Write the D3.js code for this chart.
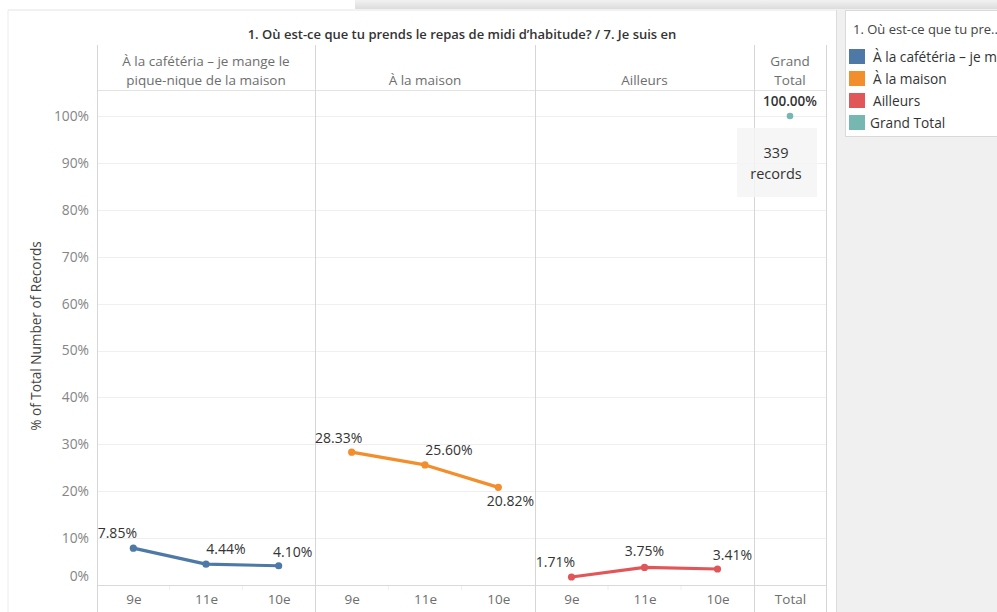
<!DOCTYPE html>
<html>
<head>
<meta charset="utf-8">
<script src="https://cdn.jsdelivr.net/npm/d3@7"></script>
<style>
  body { margin: 0; background: #fff; }
  svg { display: block; font-family: "Open Sans", "Lato", sans-serif; }
</style>
</head>
<body>
<svg id="chart" width="997" height="612"></svg>
<script>
var grades = ["9e", "11e", "10e"];
var places = ["À la cafétéria – je mange le pique-nique de la maison", "À la maison", "Ailleurs"];
var placeHeaders = [["À la cafétéria – je mange le", "pique-nique de la maison"], ["À la maison"], ["Ailleurs"]];
var cafeteria = [7.85, 4.44, 4.10];
var maison = [28.33, 25.60, 20.82];
var ailleurs = [1.71, 3.75, 3.41];
var grandTotal = 100;
var totalRecords = 339;
var yTicks = [0, 10, 20, 30, 40, 50, 60, 70, 80, 90, 100];

var series = [cafeteria, maison, ailleurs];
var colors = ["#4e79a7", "#f28e2b", "#e15759"];
var totalColor = "#76b7b2";

// label offsets (dx, dy) from the point, roughly where tableau put them
var labelOffsets = [
    [[-16, -10], [20, -10], [14, -9]],
    [[-13, -9], [24, -10], [12, 19]],
    [[-16, -10], [0, -11], [15, -9]]
];

var svg = d3.select("#chart");

// panes
var paneEdges = [97, 315, 535, 754, 826];
var headerTop = 45, headerBottom = 90, axisBottom = 612;

var y = d3.scaleLinear().domain([0, 100]).range([585, 116]);

// background bits
svg.append("rect").attr("x", 837).attr("y", 0).attr("width", 160).attr("height", 612).attr("fill", "#f0f0f0");
var grad = svg.append("defs").append("linearGradient").attr("id", "topShade").attr("x1", 0).attr("y1", 0).attr("x2", 0).attr("y2", 1);
grad.append("stop").attr("offset", "0%").attr("stop-color", "#f2f2f2");
grad.append("stop").attr("offset", "100%").attr("stop-color", "#dcdcdc");
svg.append("rect").attr("x", 355).attr("y", 0).attr("width", 642).attr("height", 9).attr("fill", "url(#topShade)");
svg.append("line").attr("x1", 8).attr("x2", 837).attr("y1", 10).attr("y2", 10).attr("stroke", "#e4e4e4");
svg.append("line").attr("x1", 8).attr("x2", 8).attr("y1", 10).attr("y2", 612).attr("stroke", "#ececec");
svg.append("line").attr("x1", 836.5).attr("x2", 836.5).attr("y1", 10).attr("y2", 612).attr("stroke", "#dcdcdc");

// title
svg.append("text")
   .attr("x", 462).attr("y", 39)
   .attr("text-anchor", "middle")
   .attr("font-size", 13).attr("font-weight", 600).attr("fill", "#333")
   .text("1. Où est-ce que tu prends le repas de midi d’habitude? / 7. Je suis en");

// gridlines
svg.append("g").selectAll("line")
   .data(yTicks.slice(1))
   .enter().append("line")
   .attr("x1", paneEdges[0]).attr("x2", paneEdges[4])
   .attr("y1", function(d) { return Math.round(y(d)) + 0.5; })
   .attr("y2", function(d) { return Math.round(y(d)) + 0.5; })
   .attr("stroke", "#efefef");

svg.append("line").attr("x1", paneEdges[0]).attr("x2", paneEdges[4])
   .attr("y1", headerBottom + 0.5).attr("y2", headerBottom + 0.5).attr("stroke", "#e3e3e3");
svg.append("line").attr("x1", paneEdges[0]).attr("x2", paneEdges[4])
   .attr("y1", 585.5).attr("y2", 585.5).attr("stroke", "#d9d9d9");

// pane dividers
svg.append("g").selectAll("line")
   .data(paneEdges)
   .enter().append("line")
   .attr("x1", function(d) { return d + 0.5; }).attr("x2", function(d) { return d + 0.5; })
   .attr("y1", headerTop).attr("y2", axisBottom)
   .attr("stroke", "#d6d6d6");

// y axis
var yAxis = svg.append("g")
   .attr("transform", "translate(89,0)")
   .call(d3.axisLeft(y).tickValues(yTicks).tickSize(0).tickPadding(0).tickFormat(function(d) { return d + "%"; }));
yAxis.select(".domain").remove();
yAxis.selectAll("text")
   .attr("font-family", "Open Sans, Lato, sans-serif")
   .attr("font-size", 13.8).attr("fill", "#858585")
   .attr("dy", function(d) { return d === 0 ? "-0.3em" : "0.32em"; });

svg.append("text")
   .attr("transform", "translate(41,336) rotate(-90)")
   .attr("text-anchor", "middle")
   .attr("font-size", 13.6).attr("fill", "#444")
   .text("% of Total Number of Records");

// each place pane
places.forEach(function(place, i) {
    var x = d3.scalePoint().domain(grades).range([paneEdges[i], paneEdges[i + 1]]).padding(0.5);
    var pane = svg.append("g").attr("class", "pane");

    var head = pane.append("text")
       .attr("text-anchor", "middle")
       .attr("font-size", 13.5).attr("fill", "#6e6e6e");
    var lines = placeHeaders[i];
    lines.forEach(function(t, k) {
        head.append("tspan")
            .attr("x", (paneEdges[i] + paneEdges[i + 1]) / 2)
            .attr("y", 85 - (lines.length - 1 - k) * 19)
            .text(t);
    });

    var xAxis = pane.append("g")
       .attr("transform", "translate(0,585)")
       .call(d3.axisBottom(x).tickSize(0).tickPadding(9));
    xAxis.select(".domain").remove();
    xAxis.selectAll("text")
       .attr("font-family", "Open Sans, Lato, sans-serif")
       .attr("font-size", 13.5).attr("fill", "#6e6e6e");

    // little separators between categories
    pane.selectAll(".sep")
       .data(grades.slice(1))
       .enter().append("line")
       .attr("x1", function(d) { return x(d) - x.step() / 2; })
       .attr("x2", function(d) { return x(d) - x.step() / 2; })
       .attr("y1", 586).attr("y2", 590)
       .attr("stroke", "#eeeeee");

    var vals = series[i];
    var line = d3.line()
       .x(function(d, k) { return x(grades[k]); })
       .y(function(d) { return y(d); });

    pane.append("path")
       .attr("d", line(vals))
       .attr("fill", "none")
       .attr("stroke", colors[i])
       .attr("stroke-width", 3.2)
       .attr("stroke-linejoin", "round");

    pane.selectAll("circle")
       .data(vals)
       .enter().append("circle")
       .attr("cx", function(d, k) { return x(grades[k]); })
       .attr("cy", function(d) { return y(d); })
       .attr("r", 3.6)
       .attr("fill", colors[i]);

    pane.selectAll(".lbl")
       .data(vals)
       .enter().append("text")
       .attr("class", "lbl")
       .attr("x", function(d, k) { return x(grades[k]) + labelOffsets[i][k][0]; })
       .attr("y", function(d, k) { return y(d) + labelOffsets[i][k][1]; })
       .attr("text-anchor", "middle")
       .attr("font-size", 14).attr("fill", "#333")
       .text(function(d) { return d.toFixed(2) + "%"; });
});

// grand total pane
var tx = d3.scalePoint().domain(["Total"]).range([paneEdges[3], paneEdges[4]]).padding(0.5);
var th = svg.append("text").attr("text-anchor", "middle").attr("font-size", 13.5).attr("fill", "#6e6e6e");
th.append("tspan").attr("x", tx("Total")).attr("y", 66).text("Grand");
th.append("tspan").attr("x", tx("Total")).attr("y", 85).text("Total");

var tAxis = svg.append("g")
   .attr("transform", "translate(0,585)")
   .call(d3.axisBottom(tx).tickSize(0).tickPadding(9));
tAxis.select(".domain").remove();
tAxis.selectAll("text")
   .attr("font-family", "Open Sans, Lato, sans-serif")
   .attr("font-size", 13.5).attr("fill", "#6e6e6e");

svg.append("rect")
   .attr("x", 737).attr("y", 128).attr("width", 80).attr("height", 69)
   .attr("fill", "#f5f5f5").attr("fill-opacity", 0.85);
var rec = svg.append("text").attr("text-anchor", "middle").attr("font-size", 14.5).attr("fill", "#333");
rec.append("tspan").attr("x", 776).attr("y", 158).text(totalRecords);
rec.append("tspan").attr("x", 776).attr("y", 179).text("records");

svg.append("circle")
   .attr("cx", tx("Total")).attr("cy", y(grandTotal))
   .attr("r", 3.3).attr("fill", totalColor);
svg.append("text")
   .attr("x", tx("Total")).attr("y", y(grandTotal) - 10)
   .attr("text-anchor", "middle")
   .attr("font-size", 13.5).attr("font-weight", 600).attr("fill", "#333")
   .text(grandTotal.toFixed(2) + "%");

// legend
var legend = svg.append("g");
legend.append("rect")
   .attr("x", 845.5).attr("y", 10.5).attr("width", 160).attr("height", 126)
   .attr("fill", "#fff").attr("stroke", "#d9d9d9");
legend.append("text")
   .attr("x", 853).attr("y", 34)
   .attr("font-size", 13).attr("fill", "#444")
   .text("1. Où est-ce que tu pre...");
var legendNames = places.concat(["Grand Total"]);
var legendColors = colors.concat([totalColor]);
var ly = d3.scaleBand().domain(legendNames).range([47, 135]);
legend.selectAll(".sw")
   .data(legendNames)
   .enter().append("rect")
   .attr("x", 849).attr("y", function(d) { return ly(d) + 2; })
   .attr("width", 16).attr("height", 15)
   .attr("fill", function(d, i) { return legendColors[i]; });
legend.selectAll(".lt")
   .data(legendNames)
   .enter().append("text")
   .attr("x", function(d, i) { return i === 3 ? 870 : 873; })
   .attr("y", function(d) { return ly(d) + 15; })
   .attr("font-size", 13.7).attr("fill", "#333")
   .text(function(d) { return d; });
</script>
</body>
</html>
